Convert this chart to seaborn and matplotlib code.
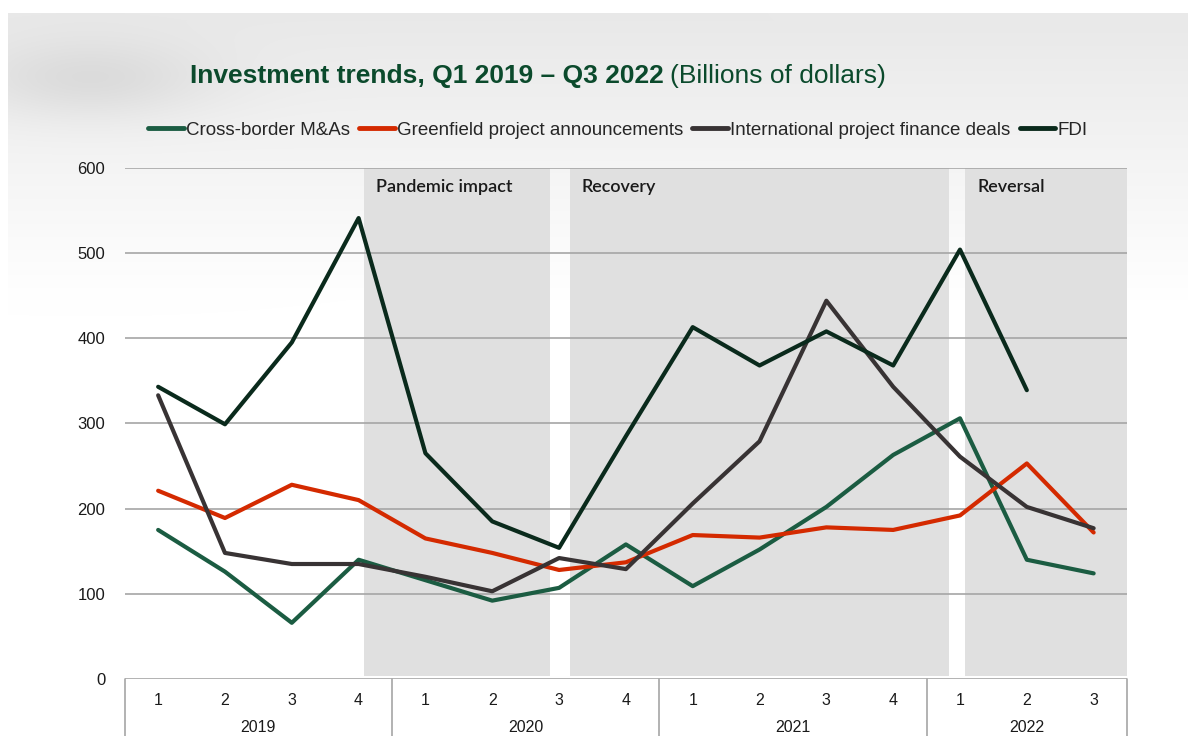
import matplotlib
matplotlib.use("Agg")
import matplotlib.pyplot as plt
import matplotlib.transforms as mtransforms
import seaborn as sns
import pandas as pd
import numpy as np

# quarters Q1 2019 .. Q3 2022
years = ["2019", "2020", "2021", "2022"]
quarters_per_year = [4, 4, 4, 3]
quarter_labels = ["1", "2", "3", "4"] * 3 + ["1", "2", "3"]

mna = [175, 126, 66, 140, 116, 92, 107, 158, 109, 152, 202, 263, 306, 140, 124]
greenfield = [221, 189, 228, 210, 165, 148, 128, 137, 169, 166, 178, 175, 192, 253, 172]
project_finance = [333, 148, 135, 135, 120, 103, 142, 129, 206, 279, 444, 343, 261, 202, 177]
fdi = [343, 299, 395, 541, 265, 185, 154, 285, 413, 368, 408, 368, 504, 339, np.nan]

series_names = ["Cross-border M&As", "Greenfield project announcements",
                "International project finance deals", "FDI"]
series_colors = ["#1b5c42", "#d42a00", "#383334", "#0a2a1c"]

# phases: (label, start index, end index)
phases = [("Pandemic impact", 3.08, 5.87),
          ("Recovery", 6.16, 11.84),
          ("Reversal", 12.08, 14.5)]

idx = np.arange(len(quarter_labels))
df = pd.concat([
    pd.DataFrame({"q": idx, "value": vals, "series": name})
    for name, vals in zip(series_names, [mna, greenfield, project_finance, fdi])
], ignore_index=True)

sns.set_theme(style="white")
plt.rcParams["font.family"] = ["Liberation Sans", "DejaVu Sans"]

fig = plt.figure(figsize=(11.88, 7.36), dpi=100)

# soft grey slide background fading to white
bg = fig.add_axes([0, 0, 1, 1], zorder=-10)
h, w = 736, 1188
yy, xx = np.mgrid[0:h, 0:w]
shade = np.clip((300 - yy) / 280.0, 0, 1) * 22
shade += np.exp(-(((xx - 90) / 120.0) ** 2 + ((yy - 80) / 40.0) ** 2)) * 18
shade[yy < 13] = 0
shade[:, :8] = 0
img = 255 - shade
bg.imshow(np.dstack([img, img, img]).astype(np.uint8), aspect="auto")
bg.axis("off")

ax = fig.add_axes([0.105, 0.0774, 0.8437, 0.6946])
ax.set_facecolor("none")

for label, x0, x1 in phases:
    ax.axvspan(x0, x1, ymin=0.005, ymax=1, color="#e0e0e0", lw=0, zorder=0)
    ax.text(x0 + 0.18, 587, label, family=["Lato", "DejaVu Sans"], fontsize=13,
            fontweight="semibold", color="#1a1a1a", va="top", ha="left")

for v in range(0, 700, 100):
    ax.axhline(v, color="#a6a6a6", lw=1.2, zorder=1)

sns.lineplot(data=df, x="q", y="value", hue="series", palette=series_colors,
             hue_order=series_names, linewidth=3.0, ax=ax, legend=False, zorder=3)

ax.set_xlim(-0.5, 14.5)
ax.set_ylim(0, 600)
ax.set_yticks(range(0, 700, 100))
ax.set_yticklabels([str(v) for v in range(0, 700, 100)])
ax.tick_params(axis="y", length=0, pad=14, labelsize=12, labelcolor="#1a1a1a")
ax.set_xticks(idx)
ax.set_xticklabels(quarter_labels)
ax.tick_params(axis="x", length=0, pad=10, labelsize=11.5, labelcolor="#1a1a1a")
ax.set_xlabel("")
ax.set_ylabel("")
for s in ax.spines.values():
    s.set_visible(False)

# category box under the axis
trans = mtransforms.blended_transform_factory(ax.transData, ax.transAxes)
edges = [-0.5]
for n in quarters_per_year:
    edges.append(edges[-1] + n)
for e in edges:
    ax.plot([e, e], [0, -0.14], color="#a6a6a6", lw=1.2, transform=trans, clip_on=False)
for i, y in enumerate(years):
    mid = (edges[i] + edges[i + 1]) / 2
    ax.text(mid, -0.094, y, transform=trans, ha="center", va="center",
            fontsize=11.5, color="#1a1a1a")

# title in two weights
t1 = fig.text(190 / 1188, 1 - 76 / 736, "Investment trends, Q1 2019 \u2013 Q3 2022",
              fontsize=19, fontweight="bold", color="#0b4a2c", va="center", ha="left")
fig.canvas.draw()
bb = t1.get_window_extent(fig.canvas.get_renderer())
fig.text((bb.x1 + 6) / 1188, 1 - 76 / 736, "(Billions of dollars)",
         fontsize=19, color="#0b4a2c", va="center", ha="left")

handles = [plt.Line2D([], [], color=c, lw=3.5) for c in series_colors]
fig.legend(handles, series_names, loc="center", bbox_to_anchor=(0.52, 1 - 130 / 736),
           ncol=4, frameon=False, handlelength=1.9, handletextpad=0.1,
           columnspacing=0.5, prop={"family": ["Liberation Sans Narrow", "Liberation Sans"],
                                    "size": 13.5})

fig.savefig("out.png", dpi=100)
